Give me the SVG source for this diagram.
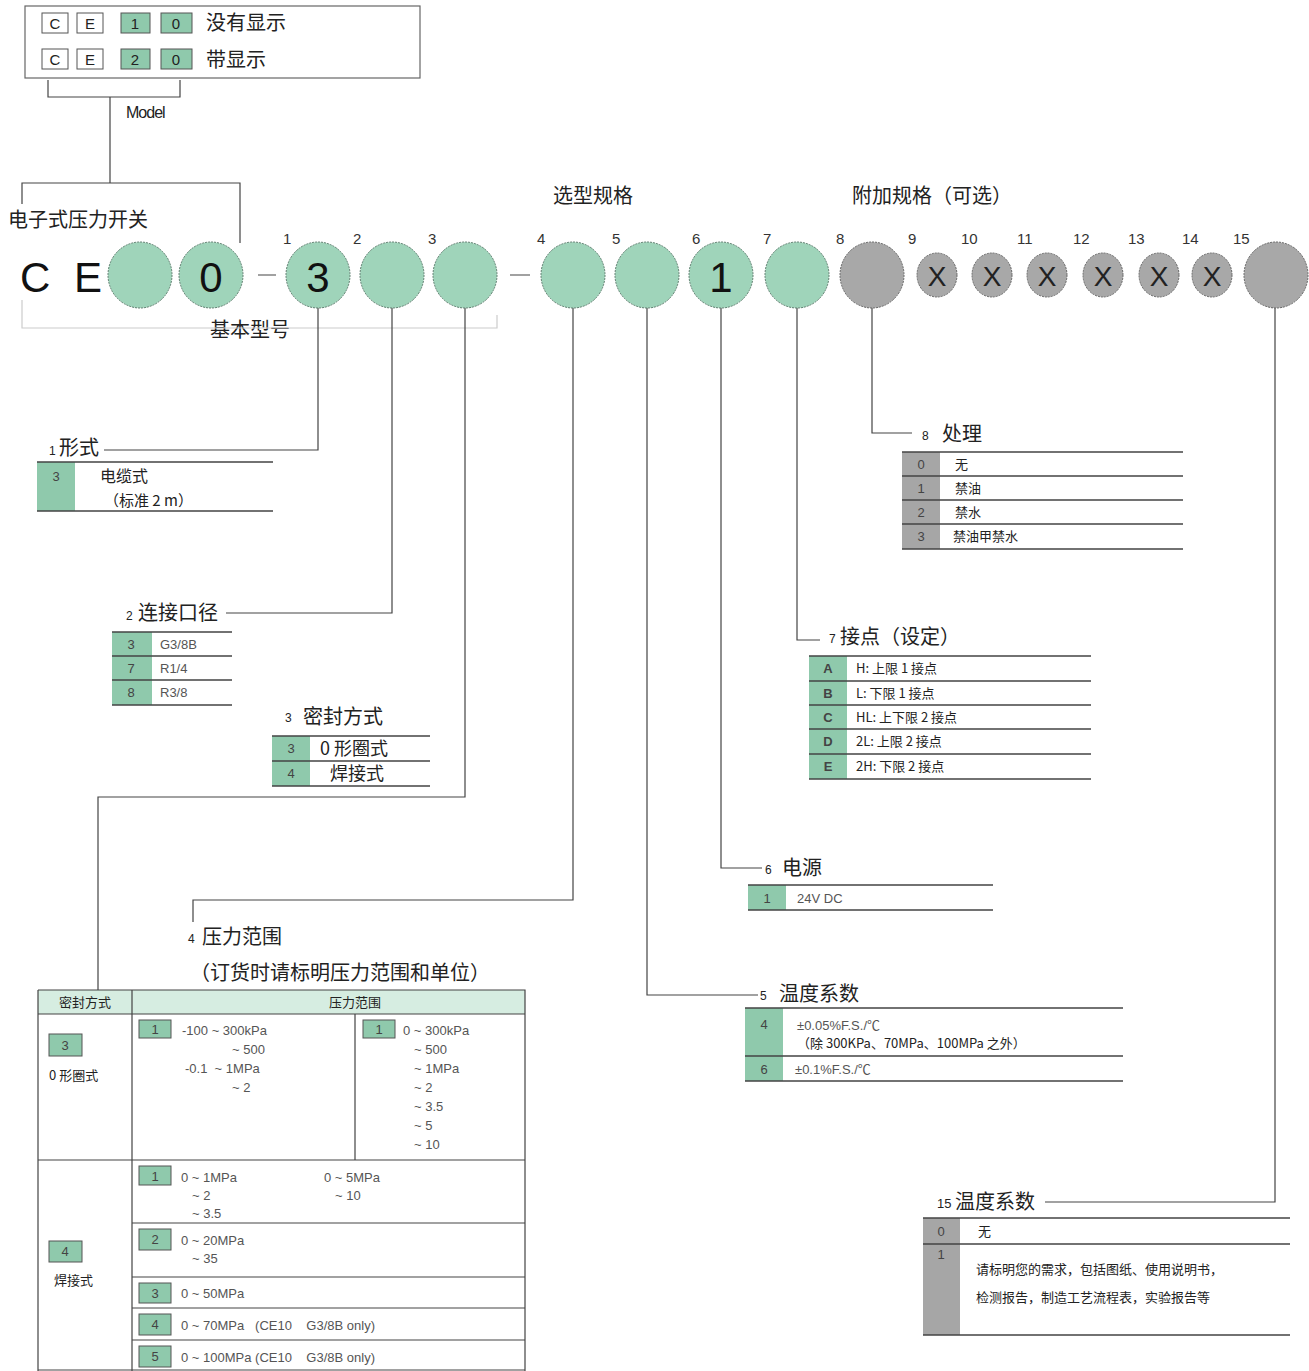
<svg xmlns="http://www.w3.org/2000/svg" width="1309" height="1371" viewBox="0 0 1309 1371">
<style>
text{font-family:"Liberation Sans","Noto Sans CJK SC",sans-serif;fill:#222}
.cn{font-family:"Noto Sans CJK SC","Liberation Sans",sans-serif}
.hd{font-size:20px}
.s{font-size:13px;fill:#555}
.n{font-size:15px;fill:#333}
.k{font-size:13px;fill:#444;text-anchor:middle}
.ln{stroke:#444;stroke-width:1.2;fill:none}
.tl{stroke:#444;stroke-width:1.5;fill:none}
.gc{fill:#9fd4ba;stroke:#5f7f70;stroke-width:1;stroke-dasharray:2 1}
.gr{fill:#a8a8a8;stroke:#666;stroke-width:1;stroke-dasharray:2 1}
.kg{fill:#8fc9ac}
.kk{fill:#a6a6a6}
.box{fill:#fff;stroke:#555;stroke-width:1}
.boxg{fill:#8fc9ac;stroke:#555;stroke-width:1}
.big{font-size:42px;font-family:"Liberation Sans",sans-serif;fill:#111}
</style>
<rect width="1309" height="1371" fill="#fff"/>

<g id="model-box">
<rect x="25" y="6" width="395" height="72" fill="#fff" stroke="#666" stroke-width="1.2"/>
<rect class="box" x="42" y="13" width="26" height="20"/><text x="55" y="29" text-anchor="middle" font-size="15">C</text>
<rect class="box" x="77" y="13" width="26" height="20"/><text x="90" y="29" text-anchor="middle" font-size="15">E</text>
<rect class="boxg" x="121" y="13" width="29" height="20"/><text x="135" y="29" text-anchor="middle" font-size="15">1</text>
<rect class="boxg" x="161" y="13" width="31" height="20"/><text x="176" y="29" text-anchor="middle" font-size="15">0</text>
<text class="cn" x="206" y="30" font-size="20">没有显示</text>
<rect class="box" x="42" y="49" width="26" height="20"/><text x="55" y="65" text-anchor="middle" font-size="15">C</text>
<rect class="box" x="77" y="49" width="26" height="20"/><text x="90" y="65" text-anchor="middle" font-size="15">E</text>
<rect class="boxg" x="121" y="49" width="29" height="20"/><text x="135" y="65" text-anchor="middle" font-size="15">2</text>
<rect class="boxg" x="161" y="49" width="31" height="20"/><text x="176" y="65" text-anchor="middle" font-size="15">0</text>
<text class="cn" x="206" y="67" font-size="20">带显示</text>
<text x="126" y="118" font-size="16" letter-spacing="-1">Model</text>
</g>

<g id="labels">
<text class="cn" x="8" y="227" font-size="20">电子式压力开关</text>
<text class="cn" x="553" y="203" font-size="20">选型规格</text>
<text class="cn" x="852" y="203" font-size="20">附加规格（可选）</text>
<text class="cn" x="210" y="337" font-size="20">基本型号</text>
<text class="big" x="20" y="292">C</text>
<text class="big" x="74" y="292">E</text>
</g>

<g id="connectors">
<path class="ln" d="M48,80 V97 H180 V80 M110,97 V183 M22,204 V183 H240 V243"/>
<path d="M22,300 V328 H497 V315" stroke="#ccc" stroke-width="1.2" fill="none"/>
<path class="ln" d="M258,275 H276 M510,275 H530"/>
<path class="ln" d="M318,308 V450 H104"/>
<path class="ln" d="M392,308 V613 H226"/>
<path class="ln" d="M465,308 V797 H98 V990"/>
<path class="ln" d="M573,308 V900 H193 V922"/>
<path class="ln" d="M647,308 V995 H758"/>
<path class="ln" d="M721,308 V868 H762"/>
<path class="ln" d="M797,308 V640 H820"/>
<path class="ln" d="M872,308 V433 H912"/>
<path class="ln" d="M1275,308 V1202 H1045"/>
</g>

<g id="code-circles">
<ellipse class="gc" cx="140" cy="275" rx="32" ry="33"/>
<ellipse class="gc" cx="211" cy="275" rx="32" ry="33"/><text class="big" x="211" y="292" text-anchor="middle" font-size="40">0</text>
<ellipse class="gc" cx="318" cy="275" rx="32" ry="33"/><text class="big" x="318" y="292" text-anchor="middle" font-size="40">3</text>
<ellipse class="gc" cx="392" cy="275" rx="32" ry="33"/>
<ellipse class="gc" cx="465" cy="275" rx="32" ry="33"/>
<ellipse class="gc" cx="573" cy="275" rx="32" ry="33"/>
<ellipse class="gc" cx="647" cy="275" rx="32" ry="33"/>
<ellipse class="gc" cx="721" cy="275" rx="32" ry="33"/><text class="big" x="721" y="292" text-anchor="middle" font-size="40">1</text>
<ellipse class="gc" cx="797" cy="275" rx="32" ry="33"/>
<ellipse class="gr" cx="872" cy="275" rx="32" ry="33"/>
<ellipse class="gr" cx="937" cy="275" rx="20" ry="22"/><text x="937" y="286" text-anchor="middle" font-size="28">X</text>
<ellipse class="gr" cx="992" cy="275" rx="20" ry="22"/><text x="992" y="286" text-anchor="middle" font-size="28">X</text>
<ellipse class="gr" cx="1047" cy="275" rx="20" ry="22"/><text x="1047" y="286" text-anchor="middle" font-size="28">X</text>
<ellipse class="gr" cx="1103" cy="275" rx="20" ry="22"/><text x="1103" y="286" text-anchor="middle" font-size="28">X</text>
<ellipse class="gr" cx="1159" cy="275" rx="20" ry="22"/><text x="1159" y="286" text-anchor="middle" font-size="28">X</text>
<ellipse class="gr" cx="1212" cy="275" rx="20" ry="22"/><text x="1212" y="286" text-anchor="middle" font-size="28">X</text>
<ellipse class="gr" cx="1276" cy="275" rx="32" ry="33"/>
<text class="n" x="283" y="244">1</text>
<text class="n" x="353" y="244">2</text>
<text class="n" x="428" y="244">3</text>
<text class="n" x="537" y="244">4</text>
<text class="n" x="612" y="244">5</text>
<text class="n" x="692" y="244">6</text>
<text class="n" x="763" y="244">7</text>
<text class="n" x="836" y="244">8</text>
<text class="n" x="908" y="244">9</text>
<text class="n" x="961" y="244">10</text>
<text class="n" x="1017" y="244">11</text>
<text class="n" x="1073" y="244">12</text>
<text class="n" x="1128" y="244">13</text>
<text class="n" x="1182" y="244">14</text>
<text class="n" x="1233" y="244">15</text>
</g>

<g id="t1-form">
<text x="49" y="455" font-size="12">1</text><text class="cn hd" x="59" y="455">形式</text>
<rect class="kg" x="37" y="462" width="38" height="49"/>
<path class="tl" d="M37,462 H273 M37,511 H273"/>
<text class="k" x="56" y="481">3</text>
<text class="cn" x="100" y="482" font-size="16">电缆式</text>
<text class="cn" x="104" y="506" font-size="15">（标准 2 m）</text>
</g>

<g id="t2-port">
<text x="126" y="620" font-size="12">2</text><text class="cn hd" x="138" y="620">连接口径</text>
<rect class="kg" x="112" y="632" width="40" height="73"/>
<path class="tl" d="M112,632 H232 M112,656 H232 M112,680 H232 M112,705 H232"/>
<text class="k" x="131" y="649">3</text><text class="s" x="160" y="649">G3/8B</text>
<text class="k" x="131" y="673">7</text><text class="s" x="160" y="673">R1/4</text>
<text class="k" x="131" y="697">8</text><text class="s" x="160" y="697">R3/8</text>
</g>

<g id="t3-seal">
<text x="285" y="722" font-size="12">3</text><text class="cn hd" x="303" y="724">密封方式</text>
<rect class="kg" x="272" y="736" width="38" height="50"/>
<path class="tl" d="M272,736 H430 M272,761 H430 M272,786 H430"/>
<text class="k" x="291" y="753">3</text><text class="cn" x="320" y="755" font-size="18">0 形圈式</text>
<text class="k" x="291" y="778">4</text><text class="cn" x="330" y="780" font-size="18">焊接式</text>
</g>

<g id="t4-pressure">
<text x="188" y="943" font-size="12">4</text><text class="cn hd" x="202" y="944">压力范围</text>
<text class="cn" x="190" y="980" font-size="20">（订货时请标明压力范围和单位）</text>
<rect x="38" y="990" width="487" height="24" fill="#d6ede1"/>
<path class="ln" d="M38,990 H525 V1371 M38,990 V1371 M38,1014 H525 M132,990 V1371 M355,1014 V1160 M38,1160 H525 M132,1223 H525 M132,1277 H525 M132,1308 H525 M132,1340 H525 M38,1370 H525"/>
<text class="cn" x="85" y="1007" font-size="13" text-anchor="middle" fill="#444">密封方式</text>
<text class="cn" x="355" y="1007" font-size="13" text-anchor="middle" fill="#444">压力范围</text>
<rect class="boxg" x="49" y="1034" width="33" height="22"/><text class="k" x="65" y="1050">3</text>
<text class="cn" x="49" y="1080" font-size="13" fill="#444">0 形圈式</text>
<rect class="boxg" x="139" y="1020" width="32" height="18"/><text class="k" x="155" y="1034">1</text>
<text class="s" x="182" y="1035">-100 ~ 300kPa</text>
<text class="s" x="232" y="1054">~ 500</text>
<text class="s" x="185" y="1073" xml:space="preserve">-0.1  ~ 1MPa</text>
<text class="s" x="232" y="1092">~ 2</text>
<rect class="boxg" x="363" y="1020" width="32" height="18"/><text class="k" x="379" y="1034">1</text>
<text class="s" x="403" y="1035">0 ~ 300kPa</text>
<text class="s" x="414" y="1054">~ 500</text>
<text class="s" x="414" y="1073">~ 1MPa</text>
<text class="s" x="414" y="1092">~ 2</text>
<text class="s" x="414" y="1111">~ 3.5</text>
<text class="s" x="414" y="1130">~ 5</text>
<text class="s" x="414" y="1149">~ 10</text>
<rect class="boxg" x="49" y="1241" width="33" height="21"/><text class="k" x="65" y="1256">4</text>
<text class="cn" x="54" y="1285" font-size="13" fill="#444">焊接式</text>
<rect class="boxg" x="139" y="1166" width="32" height="19"/><text class="k" x="155" y="1181">1</text>
<text class="s" x="181" y="1182">0 ~ 1MPa</text>
<text class="s" x="192" y="1200">~ 2</text>
<text class="s" x="192" y="1218">~ 3.5</text>
<text class="s" x="324" y="1182">0 ~ 5MPa</text>
<text class="s" x="335" y="1200">~ 10</text>
<rect class="boxg" x="139" y="1229" width="32" height="21"/><text class="k" x="155" y="1244">2</text>
<text class="s" x="181" y="1245">0 ~ 20MPa</text>
<text class="s" x="192" y="1263">~ 35</text>
<rect class="boxg" x="139" y="1283" width="32" height="20"/><text class="k" x="155" y="1298">3</text>
<text class="s" x="181" y="1298">0 ~ 50MPa</text>
<rect class="boxg" x="139" y="1314" width="32" height="21"/><text class="k" x="155" y="1329">4</text>
<text class="s" x="181" y="1330" xml:space="preserve">0 ~ 70MPa   (CE10    G3/8B only)</text>
<rect class="boxg" x="139" y="1346" width="32" height="21"/><text class="k" x="155" y="1361">5</text>
<text class="s" x="181" y="1362" xml:space="preserve">0 ~ 100MPa (CE10    G3/8B only)</text>
</g>

<g id="t8-treatment">
<text x="922" y="440" font-size="12">8</text><text class="cn hd" x="942" y="441">处理</text>
<rect class="kk" x="902" y="452" width="38" height="97"/>
<path class="tl" d="M902,452 H1183 M902,476 H1183 M902,500 H1183 M902,524 H1183 M902,549 H1183"/>
<text class="k" x="921" y="469">0</text><text class="cn" x="955" y="469" font-size="13" fill="#333">无</text>
<text class="k" x="921" y="493">1</text><text class="cn" x="955" y="493" font-size="13" fill="#333">禁油</text>
<text class="k" x="921" y="517">2</text><text class="cn" x="955" y="517" font-size="13" fill="#333">禁水</text>
<text class="k" x="921" y="541">3</text><text class="cn" x="953" y="541" font-size="13" fill="#333">禁油甲禁水</text>
</g>

<g id="t7-contact">
<text x="829" y="643" font-size="12">7</text><text class="cn hd" x="840" y="644">接点（设定）</text>
<rect class="kg" x="809" y="656" width="38" height="123"/>
<path class="tl" d="M809,656 H1091 M809,681 H1091 M809,705 H1091 M809,729 H1091 M809,754 H1091 M809,779 H1091"/>
<text class="k" x="828" y="673" font-weight="bold">A</text><text class="cn" x="856" y="673" font-size="13" fill="#333">H: 上限 1 接点</text>
<text class="k" x="828" y="698" font-weight="bold">B</text><text class="cn" x="856" y="698" font-size="13" fill="#333">L: 下限 1 接点</text>
<text class="k" x="828" y="722" font-weight="bold">C</text><text class="cn" x="856" y="722" font-size="13" fill="#333">HL: 上下限 2 接点</text>
<text class="k" x="828" y="746" font-weight="bold">D</text><text class="cn" x="856" y="746" font-size="13" fill="#333">2L: 上限 2 接点</text>
<text class="k" x="828" y="771" font-weight="bold">E</text><text class="cn" x="856" y="771" font-size="13" fill="#333">2H: 下限 2 接点</text>
</g>

<g id="t6-power">
<text x="765" y="874" font-size="12">6</text><text class="cn hd" x="782" y="875">电源</text>
<rect class="kg" x="748" y="885" width="38" height="25"/>
<path class="tl" d="M748,885 H993 M748,910 H993"/>
<text class="k" x="767" y="903">1</text><text class="s" x="797" y="903">24V DC</text>
</g>

<g id="t5-temp">
<text x="760" y="1000" font-size="12">5</text><text class="cn hd" x="779" y="1001">温度系数</text>
<rect class="kg" x="745" y="1008" width="38" height="73"/>
<path class="tl" d="M745,1008 H1123 M745,1056 H1123 M745,1081 H1123"/>
<text class="k" x="764" y="1029">4</text>
<text class="s" x="797" y="1030">±0.05%F.S./℃</text>
<text class="cn" x="797" y="1048" font-size="13" fill="#444">（除 300KPa、70MPa、100MPa 之外）</text>
<text class="k" x="764" y="1074">6</text>
<text class="s" x="795" y="1074">±0.1%F.S./℃</text>
</g>

<g id="t15-temp">
<text x="937" y="1208" font-size="13">15</text><text class="cn hd" x="955" y="1209">温度系数</text>
<rect class="kk" x="923" y="1218" width="37" height="117"/>
<path class="tl" d="M923,1218 H1290 M923,1244 H1290 M923,1335 H1290"/>
<text class="k" x="941" y="1236">0</text><text class="cn" x="978" y="1236" font-size="13" fill="#333">无</text>
<text class="k" x="941" y="1259">1</text>
<text class="cn" x="976" y="1274" font-size="13" fill="#333">请标明您的需求，包括图纸、使用说明书，</text>
<text class="cn" x="976" y="1302" font-size="13" fill="#333">检测报告，制造工艺流程表，实验报告等</text>
</g>
</svg>
